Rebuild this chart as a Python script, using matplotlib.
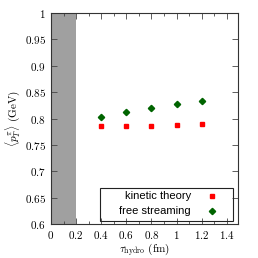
import matplotlib
matplotlib.use("Agg")
import matplotlib.pyplot as plt
from matplotlib.ticker import MultipleLocator
from matplotlib.patches import Rectangle

plt.rcParams['mathtext.fontset'] = 'cm'
plt.rcParams['font.family'] = 'DejaVu Serif'

tau = [0.4, 0.6, 0.8, 1.0, 1.2]
kinetic = [0.786, 0.786, 0.7865, 0.788, 0.790]
free_stream = [0.803, 0.813, 0.8205, 0.8275, 0.834]
xticks = [0, 0.2, 0.4, 0.6, 0.8, 1, 1.2, 1.4]
yticks = [0.6, 0.65, 0.7, 0.75, 0.8, 0.85, 0.9, 0.95, 1]

fig = plt.figure(figsize=(2.58, 2.58), dpi=100)
ax = fig.add_axes([51/258, 1-224/258, (238-51)/258, (224-13)/258])
ax.axvspan(0, 0.2, color='#a0a0a0', zorder=0, lw=0)
ax.plot(tau, kinetic, 's', color='#ff0000', ms=3.4, mec='#ff0000', label='kinetic theory', ls='none')
ax.plot(tau, free_stream, 'D', color='#006400', ms=3.2, label='free streaming', ls='none')
ax.set_xlim(0, 1.49)
ax.set_ylim(0.6, 1.0)
ax.set_xticks(xticks)
ax.set_yticks(yticks)
ax.set_xticklabels([f"${t:g}$" for t in xticks], fontsize=8)
ax.set_yticklabels([f"${t:g}$" for t in yticks], fontsize=8)
ax.xaxis.set_minor_locator(MultipleLocator(0.1))
ax.tick_params(which='both', direction='in', top=True, right=True, width=0.6, color='#444444')
ax.tick_params(which='major', length=4)
ax.tick_params(which='minor', length=2)
ax.tick_params(axis='y', which='minor', left=False, right=False)
for s in ax.spines.values():
    s.set_linewidth(0.8)
    s.set_color('#333333')
ax.set_xlabel(r'$\tau_{\rm hydro}$ $\rm (fm)$', fontsize=8, labelpad=0)
ax.set_ylabel(r'$\langle p_T^\pi\rangle$ $\rm (GeV)$', fontsize=8, labelpad=2)
leg = ax.legend(loc='center right', prop={'family': 'Liberation Sans', 'size': 8},
                markerfirst=False, frameon=False, borderpad=0, borderaxespad=0,
                handlelength=1.0, handletextpad=1.4, labelspacing=0.45,
                bbox_to_anchor=(0.890, 0.0948))
ax.add_patch(Rectangle((0.262, 0.014), 0.973 - 0.262, 0.171 - 0.014, transform=ax.transAxes,
                       fill=False, edgecolor='#222222', lw=0.8, zorder=5))
fig.savefig('out.png', dpi=100)
